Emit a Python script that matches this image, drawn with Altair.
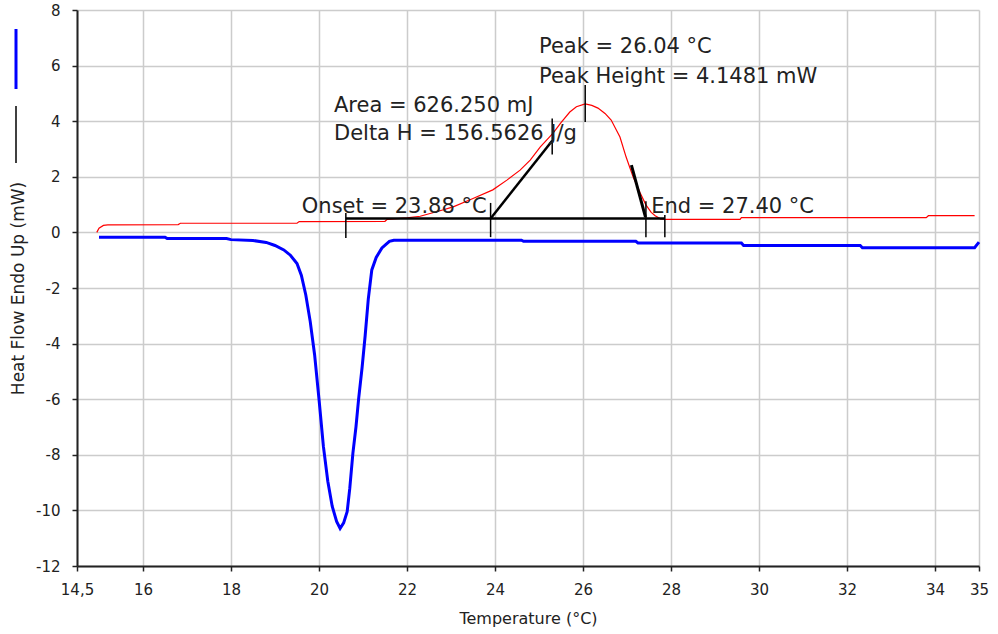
import altair as alt
import pandas as pd

# ---- red (heating) curve: temperature (°C), heat flow (mW)
red_t = [14.95, 15.0, 15.1, 15.2, 16.8, 16.85, 19.5, 19.55, 21.5, 21.55, 22.0, 22.3,
         22.75, 23.05, 23.5, 23.95, 24.27, 24.57, 24.8, 25.03, 25.32, 25.5, 25.7, 25.85,
         26.05, 26.2, 26.34, 26.5, 26.64, 26.84, 26.98, 27.14, 27.3, 27.43, 27.55, 27.64,
         27.77, 27.9, 29.57, 29.6, 33.8, 33.85, 34.9]
red_v = [0.0, 0.15, 0.25, 0.27, 0.28, 0.33, 0.33, 0.39, 0.40, 0.47, 0.52, 0.58,
         0.78, 0.92, 1.22, 1.53, 1.88, 2.24, 2.60, 3.08, 3.57, 3.95, 4.33, 4.52,
         4.62, 4.57, 4.47, 4.28, 4.04, 3.43, 2.71, 1.99, 1.42, 0.99, 0.72, 0.60,
         0.48, 0.47, 0.47, 0.53, 0.53, 0.60, 0.60]

# ---- blue (cooling) curve
blue_t = [15.0, 16.5, 16.55, 17.9, 18.0, 18.5, 18.8, 19.0, 19.2, 19.35, 19.5, 19.6,
          19.7, 19.8, 19.9, 20.0, 20.1, 20.2, 20.3, 20.4, 20.48, 20.56, 20.64, 20.7,
          20.77, 20.84, 20.9, 20.98, 21.05, 21.12, 21.2, 21.3, 21.43, 21.6, 21.7,
          24.6, 24.65, 27.2, 27.25, 29.6, 29.65, 32.3, 32.35, 34.9, 34.95, 35.0]
blue_v = [-0.17, -0.17, -0.22, -0.22, -0.26, -0.29, -0.36, -0.47, -0.63, -0.82, -1.12, -1.55,
          -2.25, -3.2, -4.4, -6.0, -7.7, -8.95, -9.85, -10.4, -10.65, -10.45, -10.05, -9.2,
          -7.95, -7.0, -6.0, -4.85, -3.7, -2.4, -1.35, -0.9, -0.56, -0.32, -0.28,
          -0.28, -0.32, -0.32, -0.38, -0.38, -0.47, -0.47, -0.55, -0.55, -0.45, -0.35]

# ---- analysis construction lines (start/end points)
seg_t1 = [20.61, 20.61, 23.90, 27.43, 27.86, 26.05, 25.30, 23.90, 27.10]
seg_v1 = [0.50, 0.70, 1.06, 1.12, 0.63, 5.30, 4.10, 0.50, 2.42]
seg_t2 = [27.86, 20.61, 23.90, 27.43, 27.86, 26.05, 25.30, 25.30, 27.42]
seg_v2 = [0.50, -0.20, -0.17, -0.17, -0.17, 3.97, 2.80, 3.30, 0.55]
seg_w = [2.5, 1.5, 1.5, 1.5, 1.5, 1.5, 1.5, 2.5, 3.0]

# ---- annotation texts
ann_text = ["Peak = 26.04 °C", "Peak Height = 4.1481 mW", "Area = 626.250 mJ",
            "Delta H = 156.5626 J/g", "Onset = 23.88 °C", "End = 27.40 °C"]
ann_t = [25.0, 25.0, 20.34, 20.34, 19.61, 27.55]
ann_v = [6.45, 5.37, 4.33, 3.32, 0.70, 0.70]

x_ticks = [14.5, 16, 18, 20, 22, 24, 26, 28, 30, 32, 34, 35]
y_ticks = [-12, -10, -8, -6, -4, -2, 0, 2, 4, 6, 8]

FONT = "DejaVu Sans"
INK = "#222222"

red = pd.DataFrame({"t": red_t, "v": red_v})
blue = pd.DataFrame({"t": blue_t, "v": blue_v})
segs = pd.DataFrame({"t1": seg_t1, "v1": seg_v1, "t2": seg_t2, "v2": seg_v2, "w": seg_w})
ann = pd.DataFrame({"txt": ann_text, "t": ann_t, "v": ann_v})

xscale = alt.Scale(domain=[14.5, 35], nice=False, zero=False)
yscale = alt.Scale(domain=[-12, 8], nice=False, zero=False)

xaxis = alt.Axis(
    values=x_ticks,
    labelExpr="datum.value == 14.5 ? '14,5' : '' + datum.value",
    title="Temperature (°C)",
    grid=True, gridColor="#cccccc", gridWidth=1.5,
    domainColor=INK, domainWidth=2,
    tickColor=INK, tickSize=5, tickWidth=1.5,
    labelFont=FONT, labelFontSize=15, labelColor=INK, labelPadding=11,
    labelFlush=False, labelOverlap=False,
    titleFont=FONT, titleFontSize=16, titleFontWeight="normal", titleColor=INK,
    titleY=57, titleBaseline="alphabetic",
)
yaxis = alt.Axis(
    values=y_ticks,
    labelExpr="'' + datum.value",
    title="Heat Flow Endo Up (mW)",
    grid=True, gridColor="#cccccc", gridWidth=1.5,
    domainColor=INK, domainWidth=2,
    tickColor=INK, tickSize=5, tickWidth=1.5,
    labelFont=FONT, labelFontSize=15, labelColor=INK, labelPadding=12,
    labelOverlap=False,
    titleFont=FONT, titleFontSize=17, titleFontWeight="normal", titleColor=INK,
    titleX=-59, titleY=278, titleAngle=270, titleAlign="center", titleBaseline="middle",
)

red_line = alt.Chart(red).mark_line(color="#ff0000", strokeWidth=1.2).encode(
    x=alt.X("t:Q", scale=xscale, axis=xaxis),
    y=alt.Y("v:Q", scale=yscale, axis=yaxis),
    order="t:Q",
)
blue_line = alt.Chart(blue).mark_line(color="#0000ff", strokeWidth=3).encode(
    x=alt.X("t:Q", scale=xscale),
    y=alt.Y("v:Q", scale=yscale),
    order="t:Q",
)
seg_rules = alt.Chart(segs).mark_rule(color="#000000").encode(
    x=alt.X("t1:Q", scale=xscale), y=alt.Y("v1:Q", scale=yscale),
    x2="t2:Q", y2="v2:Q",
    strokeWidth=alt.StrokeWidth("w:Q", scale=None, legend=None),
)
texts = alt.Chart(ann).mark_text(
    align="left", baseline="alphabetic", font=FONT, fontSize=21, color=INK
).encode(
    x=alt.X("t:Q", scale=xscale), y=alt.Y("v:Q", scale=yscale), text="txt:N"
)

one = pd.DataFrame({"k": [0]})
leg_blue = alt.Chart(one).mark_rule(color="#0000ff", strokeWidth=3).encode(
    x=alt.value(-61), y=alt.value(19), y2=alt.value(79)
)
leg_black = alt.Chart(one).mark_rule(color="#000000", strokeWidth=1.5).encode(
    x=alt.value(-61), y=alt.value(96), y2=alt.value(153)
)

chart = alt.layer(red_line, blue_line, seg_rules, texts, leg_blue, leg_black).properties(
    width=902, height=556,
    autosize=alt.AutoSizeParams(type="none"),
    padding={"left": 77, "top": 10, "right": 19, "bottom": 68},
    background="#ffffff",
).configure_view(stroke=None)

chart.save("out.html", embed_options={"renderer": "svg", "actions": False})
